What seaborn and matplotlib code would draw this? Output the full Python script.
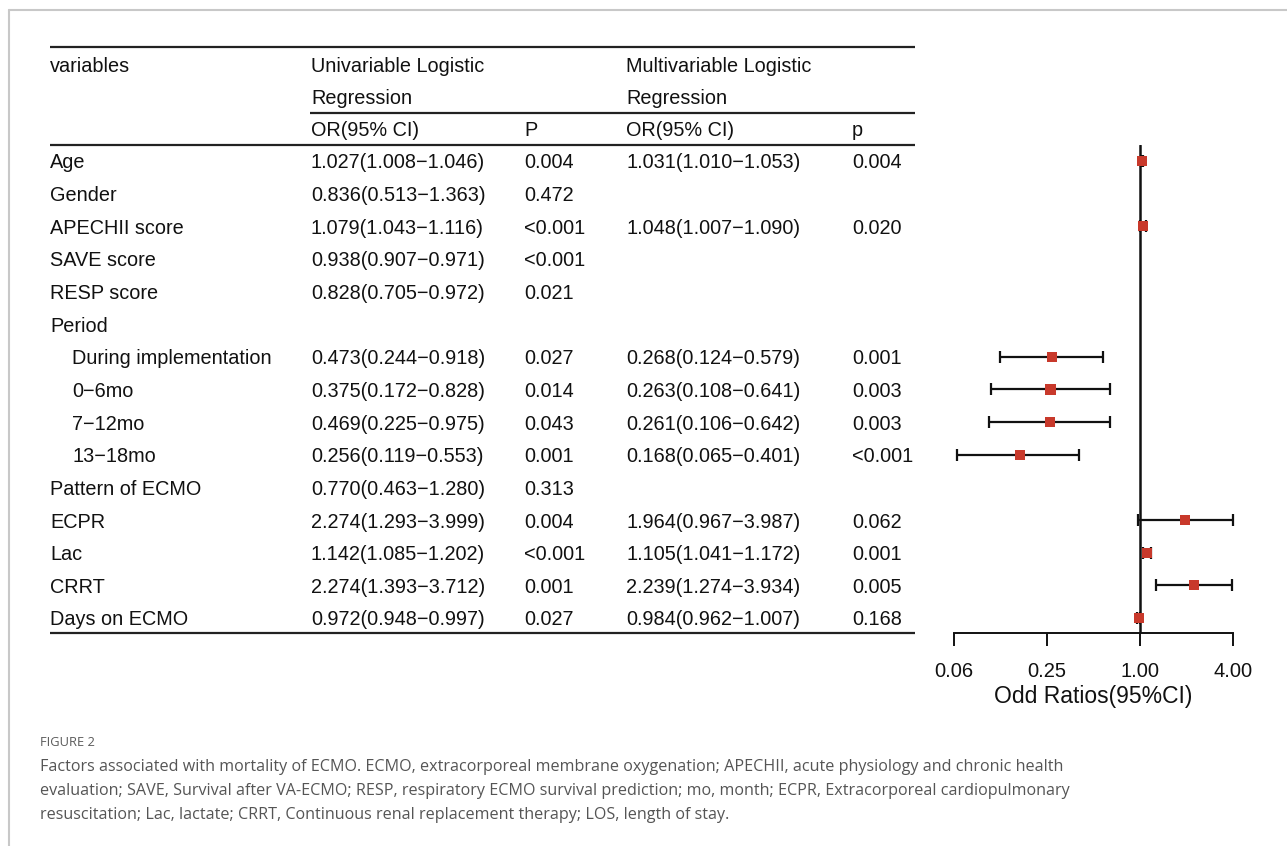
import numpy as np
import pandas as pd
import seaborn as sns
import matplotlib.pyplot as plt

# table rows
variables = ["Age", "Gender", "APECHII score", "SAVE score", "RESP score", "Period",
             "During implementation", "0\u22126mo", "7\u221212mo", "13\u221218mo",
             "Pattern of ECMO", "ECPR", "Lac", "CRRT", "Days on ECMO"]
indented = [False, False, False, False, False, False, True, True, True, True,
            False, False, False, False, False]

nan = np.nan
uni_or = [1.027, 0.836, 1.079, 0.938, 0.828, nan, 0.473, 0.375, 0.469, 0.256, 0.770, 2.274, 1.142, 2.274, 0.972]
uni_lo = [1.008, 0.513, 1.043, 0.907, 0.705, nan, 0.244, 0.172, 0.225, 0.119, 0.463, 1.293, 1.085, 1.393, 0.948]
uni_hi = [1.046, 1.363, 1.116, 0.971, 0.972, nan, 0.918, 0.828, 0.975, 0.553, 1.280, 3.999, 1.202, 3.712, 0.997]
uni_p = ["0.004", "0.472", "<0.001", "<0.001", "0.021", "", "0.027", "0.014", "0.043", "0.001",
         "0.313", "0.004", "<0.001", "0.001", "0.027"]

multi_or = [1.031, nan, 1.048, nan, nan, nan, 0.268, 0.263, 0.261, 0.168, nan, 1.964, 1.105, 2.239, 0.984]
multi_lo = [1.010, nan, 1.007, nan, nan, nan, 0.124, 0.108, 0.106, 0.065, nan, 0.967, 1.041, 1.274, 0.962]
multi_hi = [1.053, nan, 1.090, nan, nan, nan, 0.579, 0.641, 0.642, 0.401, nan, 3.987, 1.172, 3.934, 1.007]
multi_p = ["0.004", "", "0.020", "", "", "", "0.001", "0.003", "0.003", "<0.001",
           "", "0.062", "0.001", "0.005", "0.168"]

x_ticks = [0.0625, 0.25, 1, 4]
x_ticklabels = ["0.06", "0.25", "1.00", "4.00"]

caption_title = "FIGURE 2"
caption_lines = [
    "Factors associated with mortality of ECMO. ECMO, extracorporeal membrane oxygenation; APECHII, acute physiology and chronic health",
    "evaluation; SAVE, Survival after VA-ECMO; RESP, respiratory ECMO survival prediction; mo, month; ECPR, Extracorporeal cardiopulmonary",
    "resuscitation; Lac, lactate; CRRT, Continuous renal replacement therapy; LOS, length of stay.",
]


def fmt_ci(o, lo, hi):
    if np.isnan(o):
        return ""
    return f"{o:.3f}({lo:.3f}\u2212{hi:.3f})"


sns.set_theme(style="white")
plt.rcParams['font.family'] = ['Liberation Sans', 'DejaVu Sans']

W, H = 1287, 846
fig = plt.figure(figsize=(W / 100, H / 100), dpi=100)

# background axes in pixel coordinates for table + caption
bg = fig.add_axes([0, 0, 1, 1])
bg.set_xlim(0, W)
bg.set_ylim(H, 0)
bg.axis('off')

# page frame
bg.plot([9, 9], [10, H], color='#c8c8c8', lw=1.5)
bg.plot([9, W], [10, 10], color='#c8c8c8', lw=1.5)

fs = 14.3
txt = '#111111'
row_y0, row_dy = 161, 32.64
dy_txt = 2  # nudge text onto row centre
col_var, col_sub, col_uor, col_up, col_mor, col_mp = 50, 72, 311, 524, 626, 852


def cell(x, y, s):
    bg.text(x, y + dy_txt, s, fontsize=fs, va='center', color=txt)


# header
cell(col_var, 64, "variables")
cell(col_uor, 64, "Univariable Logistic")
cell(col_uor, 97, "Regression")
cell(col_mor, 64, "Multivariable Logistic")
cell(col_mor, 97, "Regression")
cell(col_uor, 129, "OR(95% CI)")
cell(col_up, 129, "P")
cell(col_mor, 129, "OR(95% CI)")
cell(col_mp, 129, "p")

# rules
rule = dict(color='#222222', lw=1.6, solid_capstyle='butt')
bg.plot([50, 915], [47, 47], **rule)
bg.plot([310, 915], [113, 113], **rule)
bg.plot([50, 915], [145, 145], **rule)
bg.plot([50, 915], [633, 633], **rule)

for i, name in enumerate(variables):
    y = row_y0 + i * row_dy
    cell(col_sub if indented[i] else col_var, y, name)
    cell(col_uor, y, fmt_ci(uni_or[i], uni_lo[i], uni_hi[i]))
    cell(col_up, y, uni_p[i])
    cell(col_mor, y, fmt_ci(multi_or[i], multi_lo[i], multi_hi[i]))
    cell(col_mp, y, multi_p[i])

# forest plot axes
n = len(variables)
px_per_log2 = 46.5
xmin, xmax = 0.05, 5.0
left_px = 1140 + np.log2(xmin) * px_per_log2
right_px = 1140 + np.log2(xmax) * px_per_log2
top_px, bottom_px = 145, 633
ax = fig.add_axes([left_px / W, 1 - bottom_px / H, (right_px - left_px) / W, (bottom_px - top_px) / H])
ax.set_facecolor('none')

df = pd.DataFrame({
    'row': np.arange(n),
    'or': multi_or,
    'lo': multi_lo,
    'hi': multi_hi,
}).dropna()

ax.axvline(1, color='#111111', lw=1.8, zorder=1)
ax.errorbar(df['or'], df['row'], xerr=[df['or'] - df['lo'], df['hi'] - df['or']],
            fmt='none', ecolor='#111111', elinewidth=1.6, capsize=4, capthick=1.6, zorder=2)
sns.scatterplot(data=df, x='or', y='row', marker='s', s=55, color='#c8392b',
                edgecolor='none', linewidth=0, zorder=3, ax=ax, legend=False)

ax.set_xscale('log', base=2)
ax.set_xlim(xmin, xmax)
ax.set_ylim((bottom_px - row_y0) / row_dy, (top_px - row_y0) / row_dy)
ax.set_yticks([])
ax.set_ylabel('')
ax.minorticks_off()
ax.set_xticks(x_ticks)
ax.set_xticklabels(x_ticklabels, fontsize=14.5, color=txt)
ax.tick_params(axis='x', direction='out', length=9, width=1.4, pad=12, color='#111111', bottom=True)
for s in ['top', 'right', 'left']:
    ax.spines[s].set_visible(False)
ax.spines['bottom'].set_bounds(x_ticks[0], x_ticks[-1])
ax.spines['bottom'].set_color('#111111')
ax.spines['bottom'].set_linewidth(1.4)
ax.set_xlabel("Odd Ratios(95%CI)", fontsize=16.5, color=txt, labelpad=3)

# caption
cap_font = ['Open Sans', 'DejaVu Sans']
bg.text(40, 743, caption_title, fontsize=9.3, color='#5a5a5a', va='center', family=cap_font)
for k, line in enumerate(caption_lines):
    bg.text(40, 767 + k * 24, line, fontsize=11.58, color='#555555', va='center', family=cap_font)

fig.savefig('out.png', dpi=100)
